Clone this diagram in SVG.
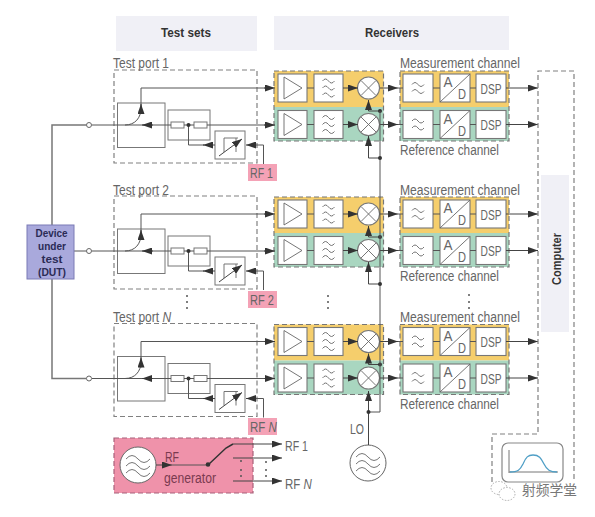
<svg xmlns="http://www.w3.org/2000/svg" xmlns:xlink="http://www.w3.org/1999/xlink" width="595" height="517" viewBox="0 0 595 517">
<style>
text{font-family:"Liberation Sans",Arial,"Noto Sans CJK SC",sans-serif;fill:#666;font-size:14px}
.h{font-weight:bold;fill:#333;font-size:13.500px}
.d{font-weight:bold;fill:#2b2b55;font-size:11.500px}
.g{fill:#7a3a50}
.dash{fill:none;stroke:#808080;stroke-width:1.200;stroke-dasharray:5 3}
.box{fill:#fff;stroke:#777;stroke-width:1.100}
.tb{fill:none;stroke:#777;stroke-width:1}
.ic{fill:none;stroke:#666;stroke-width:.9}
.ln{fill:none;stroke:#555;stroke-width:1}
.ar{fill:none;stroke:#444;stroke-width:1;marker-end:url(#ah)}
.dot{fill:#333}
.tag{fill:#f4a2b6}
.yel{fill:#f5ce6c}
.grn{fill:#a9d6c0}
.dd{fill:#555}
</style>
<defs>
<marker id="ah" markerUnits="userSpaceOnUse" markerWidth="11" markerHeight="7" refX="10" refY="3.500" orient="auto"><path d="M0 0L10 3.500L0 7z" fill="#333"/></marker>
<g id="w3"><path class="ic" d="M-6 -7q3 -4 6 0t6 0M-6 0q3 -4 6 0t6 0M-6 7q3 -4 6 0t6 0"/></g>
<g id="w2"><path class="ic" d="M-6 -3.500q3 -4 6 0t6 0M-6 3.500q3 -4 6 0t6 0"/></g>
<g id="w3b"><path class="ic" d="M-12 -6q6 -7 12 0t12 0M-12 1q6 -7 12 0t12 0M-12 8q6 -7 12 0t12 0"/></g>
<g id="mix"><circle r="11" class="box"/><path class="ic" d="M-7.500 -7.500L7.500 7.500M-7.500 7.500L7.500 -7.500"/></g>
<g id="rxrow">
<rect x="278" y="-14" width="29" height="28" class="box"/><path class="ic" d="M284 -11L302 0L284 11z"/>
<rect x="314" y="-14" width="29" height="28" class="box"/><use href="#w3" x="328.500"/>
<use href="#mix" x="368.500"/>
</g>
<g id="chrow">
<rect x="403" y="-14" width="30" height="28" class="box"/><use href="#w2" x="418"/>
<rect x="440" y="-14" width="30" height="28" class="box"/><path class="ic" d="M440 14L470 -14"/>
<text x="443.500" y="-1" textLength="9" lengthAdjust="spacingAndGlyphs">A</text><text x="458" y="11" textLength="8" lengthAdjust="spacingAndGlyphs">D</text>
<rect x="476" y="-14" width="30" height="28" class="box"/><text x="480.500" y="5.500" style="font-size:15px" textLength="21" lengthAdjust="spacingAndGlyphs">DSP</text>
</g>
<g id="tsbody">
<rect x="114" y="70" width="143" height="93" class="dash"/>
<rect x="117.500" y="103" width="47.500" height="44.500" class="tb"/>
<rect x="168" y="110" width="42" height="30" class="tb"/>
<rect x="171" y="122" width="13" height="6" fill="#fff" stroke="#777"/>
<rect x="194" y="122" width="13" height="6" fill="#fff" stroke="#777"/>
<rect x="215" y="131" width="30" height="28" class="tb"/>
<path class="ic" d="M224 152V138H238M236 138V152"/>
<path class="ar" d="M219 156L242 139"/>
</g>
<g id="rxbody">
<rect x="274" y="71" width="109.500" height="36" class="yel"/>
<rect x="274" y="107" width="109.500" height="34" class="grn"/>
<rect x="274" y="71" width="109.500" height="70" class="dash" style="stroke:#777"/>
<use href="#rxrow" y="88"/><use href="#rxrow" y="124.500"/>
</g>
<g id="chbody">
<rect x="400" y="71" width="109" height="36" class="yel"/>
<rect x="400" y="107" width="109" height="34" class="grn"/>
<rect x="400" y="71" width="109" height="70" class="dash" style="stroke:#777"/>
<use href="#chrow" y="88"/><use href="#chrow" y="124.500"/>
</g>
<g id="rowconn">
<path class="ln" d="M92 125H171M184 125H194M207 125H268"/>
<path class="ar" d="M153 125H142"/>
<path class="ar" d="M264 125H275"/>
<path class="ln" d="M125 125C135 125 141 118 141 108V88H268"/>
<path class="ar" d="M141 114V104"/>
<path class="ar" d="M264 88H275"/>
<path class="ln" d="M188.500 125V145H204"/>
<path class="ar" d="M215 145H203"/>
<path class="ln" d="M263.500 164V145H250"/>
<path class="ar" d="M256 145H246"/>
<circle class="dot" cx="188.500" cy="125" r="2"/>
<path class="ln" d="M307 88H314M307 124.500H314M433 88H440M470 88H476M433 124.500H440M470 124.500H476"/>
<path class="ar" d="M343 88H358"/><path class="ar" d="M343 124.500H358"/>
<path class="ar" d="M380 88H398"/><path class="ln" d="M398 88H403"/>
<path class="ar" d="M380 124.500H398"/><path class="ln" d="M398 124.500H403"/>
<path class="ar" d="M506 88H538"/><path class="ar" d="M506 124.500H538"/>
<path class="ar" d="M380 111H368.500V100"/>
<circle class="dot" cx="380" cy="111" r="2"/>
</g>
</defs>
<rect width="595" height="517" fill="#fff"/>

<g id="header-test-sets"><rect x="116" y="16" width="141" height="35" fill="#f0f0f6"/><text class="h" x="161" y="37" textLength="50" lengthAdjust="spacingAndGlyphs">Test sets</text></g>
<g id="header-receivers"><rect x="274" y="16" width="235" height="34" fill="#f0f0f6"/><text class="h" x="365" y="37" textLength="54" lengthAdjust="spacingAndGlyphs">Receivers</text></g>

<g id="test-port-1"><use href="#tsbody"/><text x="113" y="68" textLength="56" lengthAdjust="spacingAndGlyphs">Test port 1</text></g>
<g id="test-port-2" transform="translate(0 126)"><use href="#tsbody"/><text x="113" y="69" textLength="56" lengthAdjust="spacingAndGlyphs">Test port 2</text></g>
<g id="test-port-n" transform="translate(0 253.500)"><use href="#tsbody"/><text transform="translate(113 68) scale(.86 1)">Test port <tspan font-style="italic">N</tspan></text></g>

<g id="rf-tag-1"><rect class="tag" x="248" y="164" width="29" height="17"/><text x="250" y="178" textLength="23" lengthAdjust="spacingAndGlyphs">RF 1</text></g>
<g id="rf-tag-2"><rect class="tag" x="248" y="291" width="29" height="17"/><text x="250" y="305" textLength="24" lengthAdjust="spacingAndGlyphs">RF 2</text></g>
<g id="rf-tag-n"><rect class="tag" x="248" y="418" width="29" height="17"/><text transform="translate(250 432) scale(.82 1)">RF <tspan font-style="italic">N</tspan></text></g>

<g id="receiver-1"><use href="#rxbody"/></g>
<g id="receiver-2" transform="translate(0 126)"><use href="#rxbody"/></g>
<g id="receiver-n" transform="translate(0 253.500)"><use href="#rxbody"/></g>

<g id="channels-1"><use href="#chbody"/><text x="400" y="68" textLength="120" lengthAdjust="spacingAndGlyphs">Measurement channel</text><text x="400" y="155" textLength="99" lengthAdjust="spacingAndGlyphs">Reference channel</text></g>
<g id="channels-2" transform="translate(0 126)"><use href="#chbody"/><text x="400" y="69" textLength="120" lengthAdjust="spacingAndGlyphs">Measurement channel</text><text x="400" y="155" textLength="99" lengthAdjust="spacingAndGlyphs">Reference channel</text></g>
<g id="channels-n" transform="translate(0 253.500)"><use href="#chbody"/><text x="400" y="68" textLength="120" lengthAdjust="spacingAndGlyphs">Measurement channel</text><text x="400" y="155" textLength="99" lengthAdjust="spacingAndGlyphs">Reference channel</text></g>

<g id="rf-generator"><rect x="114" y="438" width="139" height="55" fill="#ef92aa" stroke="#a8607a" stroke-width="1.200" stroke-dasharray="5 3"/>
<circle cx="138" cy="465" r="18" fill="#fff" stroke="#666"/><use href="#w3b" x="138" y="465"/>
<text class="g" x="165" y="462" textLength="14" lengthAdjust="spacingAndGlyphs">RF</text>
<text class="g" x="164" y="483" textLength="52" lengthAdjust="spacingAndGlyphs">generator</text></g>

<g id="lo"><circle cx="368" cy="463" r="18" fill="#fff" stroke="#666"/><use href="#w3b" x="368" y="463"/><text x="350" y="434" textLength="14" lengthAdjust="spacingAndGlyphs">LO</text></g>

<g id="connectors">
<use href="#rowconn"/>
<use href="#rowconn" y="126"/>
<use href="#rowconn" y="253.500"/>
<path d="M86.500 125H52V378.500H86.500" fill="none" stroke="#777" stroke-width="1.500"/>
<path class="ln" d="M74 251H86.500"/>
<path class="ln" d="M380 111V412H368"/>
<path class="ar" d="M380 158H368.500V136"/>
<path class="ar" d="M380 284H368.500V262"/>
<path class="ar" d="M368.500 445V391"/>
<circle class="dot" cx="380" cy="158" r="2"/><circle class="dot" cx="380" cy="284" r="2"/><circle class="dot" cx="368.500" cy="412" r="2"/>
<path class="ar" d="M156 465H172"/>
<path class="ln" d="M172 465H208"/>
<path d="M208 465L226 448L233 444" fill="none" stroke="#333" stroke-width="1.500"/>
<path class="ar" d="M233 444H282"/>
<path class="ar" d="M233 458H282"/>
<path class="ar" d="M233 481H282"/>
<circle class="dot" cx="208" cy="464.500" r="2.300"/>
</g>
<g id="port-circles" fill="#fff" stroke="#666">
<circle cx="89" cy="125" r="2.500"/><circle cx="89" cy="251" r="2.500"/><circle cx="89" cy="378.500" r="2.500"/>
</g>

<g id="dut"><rect x="27" y="225" width="47" height="54" fill="#a9a9dc" stroke="#7b7bb5"/>
<text class="d" x="35.500" y="237" textLength="32" lengthAdjust="spacingAndGlyphs">Device</text><text class="d" x="38" y="250" textLength="28" lengthAdjust="spacingAndGlyphs">under</text><text class="d" x="41.500" y="263" textLength="21" lengthAdjust="spacingAndGlyphs">test</text><text class="d" x="38" y="276" textLength="28" lengthAdjust="spacingAndGlyphs">(DUT)</text></g>

<g id="rf-outputs"><text x="285" y="451" textLength="23" lengthAdjust="spacingAndGlyphs">RF 1</text><text transform="translate(285 489) scale(.82 1)">RF <tspan font-style="italic">N</tspan></text></g>

<g id="computer"><path class="dash" d="M492 482V434H538V71H574V482"/>
<rect x="541" y="175" width="28" height="157" fill="#f0f0f6"/>
<text class="h" transform="translate(561 285) rotate(-90)" textLength="52" lengthAdjust="spacingAndGlyphs">Computer</text></g>

<g id="display"><rect x="502" y="443" width="61" height="39" rx="6" fill="#fff" stroke="#888" stroke-width="1.200"/>
<path d="M509 450V473M509 472H558" fill="none" stroke="#777"/>
<path d="M510 472C518 472 520 470 523 464C526 457 528 455 533 455C539 455 541 458 544 464C547 470 550 472 557 472" fill="none" stroke="#4f9fc6" stroke-width="1.300"/></g>

<g id="ellipsis" class="dd">
<circle cx="187" cy="296" r="1"/><circle cx="187" cy="302" r="1"/><circle cx="187" cy="308" r="1"/>
<circle cx="328" cy="296" r="1"/><circle cx="328" cy="302" r="1"/><circle cx="328" cy="308" r="1"/>
<circle cx="469" cy="295" r="1"/><circle cx="469" cy="302" r="1"/><circle cx="469" cy="308" r="1"/>
<circle cx="241" cy="461" r="1"/><circle cx="241" cy="470" r="1"/><circle cx="241" cy="476" r="1"/>
<circle cx="266" cy="462" r="1"/><circle cx="266" cy="470" r="1"/><circle cx="266" cy="476" r="1"/>
</g>

<g id="watermark"><ellipse cx="499" cy="488" rx="8" ry="6.500" fill="#fff" stroke="#aaa" stroke-dasharray="1.500 1.500"/><ellipse cx="507" cy="494" rx="8" ry="6.500" fill="#fff" stroke="#aaa" stroke-dasharray="1.500 1.500"/>
<text x="522" y="495" style="font-size:14px;fill:#777" textLength="55" lengthAdjust="spacingAndGlyphs">射频学堂</text></g>
</svg>
